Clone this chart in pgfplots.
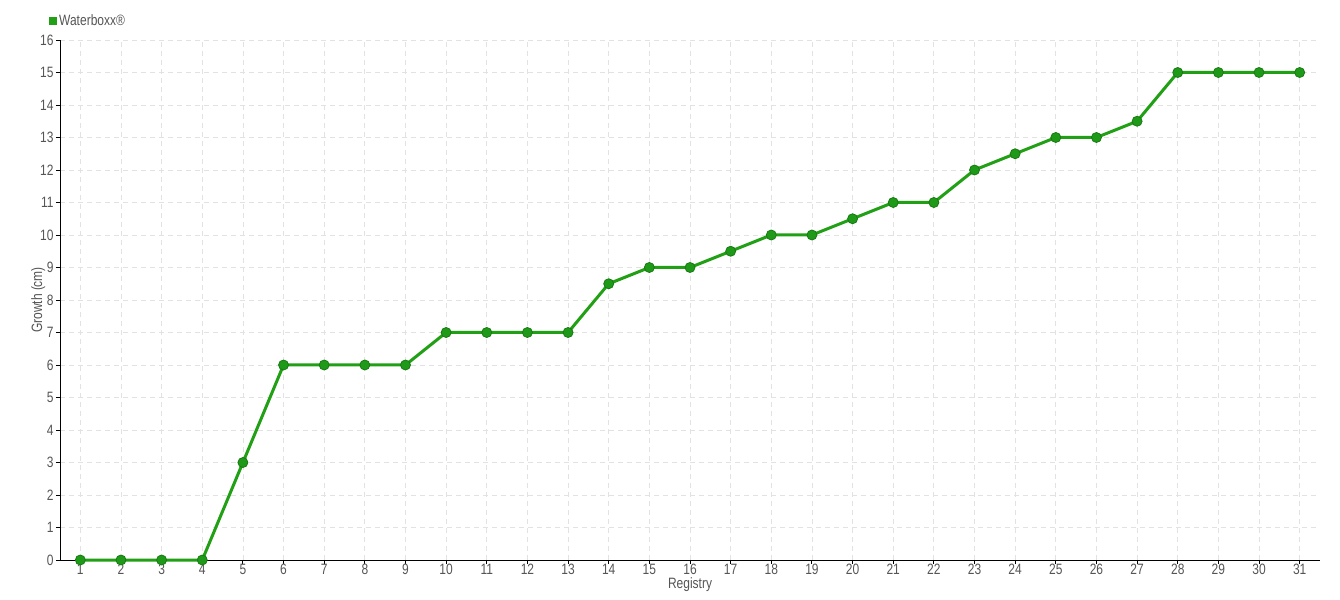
\documentclass[border=0pt]{standalone}
\usepackage{fontspec}
\setmainfont[FakeStretch=0.8]{Liberation Sans}
\usepackage{pgfplots}
\pgfplotsset{compat=1.18}
\definecolor{lineg}{HTML}{22A015}
\definecolor{markg}{HTML}{1E9A18}
\definecolor{markd}{HTML}{187A12}
\definecolor{gridc}{HTML}{E2E2E2}
\definecolor{txt}{HTML}{555555}
\begin{document}
\begin{tikzpicture}
\begin{axis}[
  scale only axis,
  width=1260bp, height=520bp,
  xmin=0.5, xmax=31.5, ymin=0, ymax=16,
  axis x line=bottom, axis y line=left,
  axis line style={black, line width=0.9bp, -},
  xtick={1,...,31}, ytick={0,...,16},
  tick style={black, line width=0.9bp},
  tick align=outside,
  major tick length=4bp,
  grid=major,
  major grid style={gridc, dashed, line width=0.8bp, dash pattern=on 5bp off 4bp},
  tick label style={font=\fontsize{15bp}{15bp}\selectfont, text=txt},
  /pgf/number format/assume math mode=true,
  xticklabel style={inner sep=1bp, yshift=1bp},
  yticklabel style={xshift=1bp},
  xlabel={Registry}, ylabel={Growth (cm)},
  label style={font=\fontsize{15bp}{15bp}\selectfont, text=txt},
  xlabel style={at={(axis description cs:0.5,0)}, anchor=north, inner sep=0pt, yshift=-17bp},
  ylabel style={yshift=-12bp},
  legend style={draw=none, fill=none, at={(axis description cs:0,1)}, anchor=south west, xshift=-11bp, yshift=11bp, font=\fontsize{15bp}{15bp}\selectfont, text=txt, inner sep=0pt},
  legend image code/.code={\fill[lineg] (0bp,-2.5bp) rectangle (5bp,2.5bp);},
  legend cell align=left,
  clip=false,
]
\addplot[lineg, line width=3bp, mark=*, mark size=5bp, mark options={fill=markg, draw=markd, line width=0.8bp}] coordinates {
(1,0) (2,0) (3,0) (4,0) (5,3) (6,6) (7,6) (8,6) (9,6) (10,7)
(11,7) (12,7) (13,7) (14,8.5) (15,9) (16,9) (17,9.5) (18,10) (19,10) (20,10.5)
(21,11) (22,11) (23,12) (24,12.5) (25,13) (26,13) (27,13.5) (28,15) (29,15) (30,15) (31,15)
};
\addlegendentry{Waterboxx®}
\end{axis}
\path[use as bounding box] ([xshift=-60bp,yshift=-40bp]current axis.south west) rectangle ([xshift=20bp,yshift=40bp]current axis.north east);
\end{tikzpicture}
\end{document}
